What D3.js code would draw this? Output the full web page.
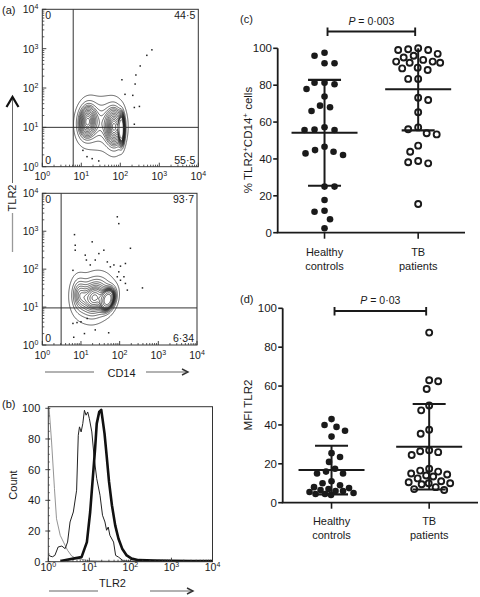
<!DOCTYPE html>
<html><head><meta charset="utf-8">
<script src="https://cdn.jsdelivr.net/npm/d3@7"></script>
<style>html,body{margin:0;padding:0;background:#fff}svg{display:block}</style>
</head><body>
<script>
// ---------------- DATA ----------------
// (a) flow cytometry: populations [log10 CD14, log10 TLR2, sdX, sdY, rho, weight]
const a1Pops = [
  [1.15, 1.15, 0.14, 0.26, 0.10, 0.28],
  [1.85, 1.00, 0.14, 0.30, 0.00, 0.35],
  [2.03, 0.95, 0.04, 0.20, 0.00, 0.15],
  [1.50, 1.10, 0.26, 0.36, 0.10, 0.22]
];
const a2Pops = [
  [1.35, 1.25, 0.24, 0.30, 0.15, 0.60],
  [1.70, 1.20, 0.10, 0.16, 0.30, 0.28],
  [0.95, 1.35, 0.12, 0.26, 0.00, 0.12]
];
// outlier events [CD14, TLR2]
const a1Events = [[646,933],[479,676],[324,363],[251,214],[110,162],[240,126],[132,69],[209,65],[229,32],[309,34],[229,12],[11,2.6],[14,1.8],[28,1.4],[19,1.6]];
const a2Events = [[87,2400],[95,1585],[6.8,813],[7.1,427],[7.1,316],[19.5,525],[39,316],[190,355],[12.9,234],[29,257],[13.8,174],[23.4,174],[6.2,93],[17.4,129],[48,155],[57.5,115],[71,129],[105,120],[141,141],[95,85],[129,63],[87,63],[141,42],[158,28],[389,32],[105,51],[6.2,3.7],[7.9,3.9],[10,4.1],[6.5,1.6],[12.3,2.0],[23.4,2.5],[52,2.1],[14.5,5.0]];
const a1Quad = {vx: 6.2, hy: 10};
const a2Quad = {vx: 3.07, hy: 9.5};
const a1Labels = ["0", "44·5", "0", "55·5"];
const a2Labels = ["0", "93·7", "0", "6·34"];
const logTicks = [1, 10, 100, 1000, 10000];
const logTickExp = ["0", "1", "2", "3", "4"];

// (b) histograms: [log10 TLR2, count]
const histIso = [[0,100],[0.02,100],[0.08,78],[0.15,47.6],[0.2,28],[0.29,17.2],[0.37,12.8],[0.47,7.4],[0.57,3.7],[0.69,2],[0.81,1.5],[0.95,0.8],[1.2,0.5],[1.6,0.3],[2,0.2],[4,0]];
const histThin = [[0,4.6],[0.04,3.7],[0.1,3.2],[0.16,4.1],[0.24,9.6],[0.33,10.2],[0.41,8.5],[0.47,12.8],[0.53,25.9],[0.61,32.4],[0.69,46.6],[0.73,82.4],[0.76,87.9],[0.8,84.6],[0.84,90],[0.88,98.7],[0.92,95.5],[0.96,97.6],[1.0,93.3],[1.06,84.6],[1.12,67.2],[1.18,54.1],[1.26,43.3],[1.32,30.3],[1.38,25.9],[1.42,20.5],[1.46,22.6],[1.5,17.2],[1.59,12.8],[1.64,4.1],[1.71,3],[1.83,0.5],[2,0.3],[4,0]];
const histThick = [[0.3,0.5],[0.61,2],[0.81,3],[0.94,12.8],[1.02,32.4],[1.07,49.8],[1.14,73.7],[1.18,90],[1.24,97.6],[1.29,99],[1.32,93.3],[1.37,83.5],[1.42,69.4],[1.48,52],[1.55,36.8],[1.63,23.7],[1.71,15],[1.8,8.5],[1.91,4.1],[2.03,2],[2.2,1],[2.6,0.8],[3,0.6],[3.5,0.5],[4,0.5]];
const countTicks = [0, 20, 40, 60, 80, 100];

// (c) % TLR2+CD14+ cells
const groups = ["Healthy controls", "TB patients"];
const groupLines = [["Healthy", "controls"], ["TB", "patients"]];
const cHealthy = [97.6,96.0,91.9,91.9,81.3,80.5,81.3,77.9,73.8,68.9,68.0,66.0,57.2,55.7,55.7,56.0,46.6,43.9,42.1,43.0,44.8,25.0,25.0,17.7,11.9,11.4,7.3,2.4];
const cTB = [99.1,99.5,100,99.1,97,96,95,92.2,92.8,93.7,92.8,92.2,88.2,89.5,89.1,83.4,83.4,73.2,72.0,65.3,57.1,53.9,53.3,56.1,47.2,43.9,38.2,37.6,38.9,15.6];
const cMean = [54.2, 77.8];
const cSD = [28.7, 22.3];
const cP = "0·003";
// (d) MFI TLR2
const dHealthy = [43,39,40,34,37,25.5,23.5,21,17.5,15,16,15,11,10,9,8,7.5,7,6.5,6,6,5.5,5,4.5,4.5,4];
const dTB = [87.5,63,62.5,58.5,50,47.5,37.5,35.5,27,26.5,26,24.5,17.5,16.5,16,15,14.5,14,13.5,12.5,11,10.5,10,10,9.5,8,7,6.5];
const dMean = [16.8, 28.8];
const dSD = [12.5, 22.0];
const dP = "0·03";
const pctTicks = [0, 20, 40, 60, 80, 100];

// ---------------- DRAW ----------------
const FONT = "'Liberation Sans', Arial, Helvetica, sans-serif";
const INK = "#1a1a1a";
const svg = d3.select("body").append("svg").attr("width", 480).attr("height", 597)
  .style("font-family", FONT);
svg.append("rect").attr("width", 480).attr("height", 597).attr("fill", "#fff");

function panelLabel(t, x, y) {
  svg.append("text").attr("x", x).attr("y", y).attr("font-size", 11).attr("fill", INK).text(t);
}
function powLabel(g, v, i, x, y, anchor) {
  const t = g.append("text").attr("x", x).attr("y", y).attr("text-anchor", anchor)
    .attr("font-size", 10.5).attr("fill", INK);
  t.append("tspan").text("10");
  t.append("tspan").attr("dy", -4).attr("font-size", 7).text(logTickExp[i]);
}
function minorLogVals() {
  const out = [];
  for (let d = 0; d < 4; d++) for (let k = 2; k <= 9; k++) out.push(k * Math.pow(10, d));
  return out;
}

function flowPlot(x0, x1, y0, y1, pops, events, quad, labels, clipId) {
  const x = d3.scaleLog().domain([1, 1e4]).range([x0, x1]);
  const y = d3.scaleLog().domain([1, 1e4]).range([y1, y0]);
  const g = svg.append("g");
  g.append("clipPath").attr("id", clipId).append("rect")
    .attr("x", x0).attr("y", y0).attr("width", x1 - x0).attr("height", y1 - y0);
  // density grid
  const step = 1;
  const nx = Math.ceil((x1 - x0) / step) + 1, ny = Math.ceil((y1 - y0) / step) + 1;
  const vals = new Float64Array(nx * ny);
  for (let j = 0; j < ny; j++) for (let i = 0; i < nx; i++) {
    const lx = Math.log10(x.invert(x0 + i * step));
    const ly = Math.log10(y.invert(y0 + j * step));
    let s = 0;
    for (const [cx, cy, sx, sy, r, w] of pops) {
      const zx = (lx - cx) / sx, zy = (ly - cy) / sy;
      s += w / (sx * sy * Math.sqrt(1 - r * r)) * Math.exp(-(zx * zx - 2 * r * zx * zy + zy * zy) / (2 * (1 - r * r)));
    }
    vals[j * nx + i] = s;
  }
  // probability contours (equal mass levels)
  const sorted = Array.from(vals).sort((a, b) => b - a);
  const total = d3.sum(sorted);
  const outside = d3.range(0.03, 0.96, 0.062);
  const thr = [];
  let cum = 0, k = 0;
  const targets = outside.map(q => (1 - q) * total).sort((a, b) => a - b);
  for (const v of sorted) {
    cum += v;
    while (k < targets.length && cum >= targets[k]) { thr.push(v); k++; }
    if (k >= targets.length) break;
  }
  const conts = d3.contours().size([nx, ny]).thresholds(thr.sort((a, b) => a - b))(Array.from(vals));
  const path = d3.geoPath(d3.geoTransform({point: function(px, py) {
    this.stream.point(x0 + (px - 0.5) * step, y0 + (py - 0.5) * step);
  }}));
  const cg = g.append("g").attr("clip-path", `url(#${clipId})`);
  cg.selectAll("path").data(conts).join("path").attr("d", path)
    .attr("fill", "none").attr("stroke", "#222").attr("stroke-width", 0.7);
  cg.selectAll("rect.ev").data(events).join("rect").attr("class", "ev")
    .attr("x", d => x(d[0]) - 0.75).attr("y", d => y(d[1]) - 0.75)
    .attr("width", 1.5).attr("height", 1.5).attr("fill", "#222");
  // quadrant lines
  g.append("line").attr("x1", x(quad.vx)).attr("x2", x(quad.vx)).attr("y1", y0).attr("y2", y1)
    .attr("stroke", "#333").attr("stroke-width", 1);
  g.append("line").attr("x1", x0).attr("x2", x1).attr("y1", y(quad.hy)).attr("y2", y(quad.hy))
    .attr("stroke", "#333").attr("stroke-width", 1);
  // frame
  g.append("rect").attr("x", x0).attr("y", y0).attr("width", x1 - x0).attr("height", y1 - y0)
    .attr("fill", "none").attr("stroke", "#333").attr("stroke-width", 1);
  // ticks
  const minors = minorLogVals();
  g.selectAll("line.mx").data(minors).join("line").attr("class", "mx")
    .attr("x1", d => x(d)).attr("x2", d => x(d)).attr("y1", y1).attr("y2", y1 - 2)
    .attr("stroke", "#333").attr("stroke-width", 0.8);
  g.selectAll("line.my").data(minors).join("line").attr("class", "my")
    .attr("y1", d => y(d)).attr("y2", d => y(d)).attr("x1", x0).attr("x2", x0 + 2)
    .attr("stroke", "#333").attr("stroke-width", 0.8);
  g.selectAll("line.Mx").data(logTicks).join("line").attr("class", "Mx")
    .attr("x1", d => x(d)).attr("x2", d => x(d)).attr("y1", y1).attr("y2", y1 - 4)
    .attr("stroke", "#333").attr("stroke-width", 0.9);
  g.selectAll("line.My").data(logTicks).join("line").attr("class", "My")
    .attr("y1", d => y(d)).attr("y2", d => y(d)).attr("x1", x0).attr("x2", x0 + 4)
    .attr("stroke", "#333").attr("stroke-width", 0.9);
  logTicks.forEach((v, i) => {
    powLabel(g, v, i, x(v), y1 + 13.5, "middle");
    powLabel(g, v, i, x0 - 4, y(v) + 4, "end");
  });
  // quadrant labels
  const qs = 10.5;
  g.append("text").attr("x", x0 + 3).attr("y", y0 + 10).attr("font-size", qs).attr("fill", INK).text(labels[0]);
  g.append("text").attr("x", x1 - 3).attr("y", y0 + 10).attr("text-anchor", "end").attr("font-size", qs).attr("fill", INK).text(labels[1]);
  g.append("text").attr("x", x0 + 3).attr("y", y1 - 3).attr("font-size", qs).attr("fill", INK).text(labels[2]);
  g.append("text").attr("x", x1 - 3).attr("y", y1 - 3).attr("text-anchor", "end").attr("font-size", qs).attr("fill", INK).text(labels[3]);
}

panelLabel("(a)", 2, 14);
flowPlot(42.3, 198.3, 9.3, 166.7, a1Pops, a1Events, a1Quad, a1Labels, "clipA1");
flowPlot(42.3, 197, 193.3, 345, a2Pops, a2Events, a2Quad, a2Labels, "clipA2");

// axis titles with arrows
function arrowHead(x, y) {
  svg.append("path").attr("d", `M${x - 6},${y - 3}L${x},${y}L${x - 6},${y + 3}`)
    .attr("fill", "none").attr("stroke", "#333").attr("stroke-width", 1.4);
}
function horizTitle(text, cx, by, lx0, lx1, rx0, rx1, ly) {
  svg.append("text").attr("x", cx).attr("y", by).attr("text-anchor", "middle")
    .attr("font-size", 11).attr("fill", INK).text(text);
  svg.append("line").attr("x1", lx0).attr("x2", lx1).attr("y1", ly).attr("y2", ly)
    .attr("stroke", "#999").attr("stroke-width", 1.3);
  svg.append("line").attr("x1", rx0).attr("x2", rx1).attr("y1", ly).attr("y2", ly)
    .attr("stroke", "#999").attr("stroke-width", 1.3);
  arrowHead(rx1, ly);
}
horizTitle("CD14", 121.5, 377, 45, 94, 146, 188, 372);
horizTitle("TLR2", 112.5, 587, 49, 98, 150, 193, 591);
// vertical TLR2 for (a)
svg.append("text").attr("transform", "translate(16,198) rotate(-90)").attr("text-anchor", "middle")
  .attr("font-size", 11).attr("fill", INK).text("TLR2");
svg.append("line").attr("x1", 12.5).attr("x2", 12.5).attr("y1", 99).attr("y2", 183)
  .attr("stroke", "#666").attr("stroke-width", 1);
svg.append("line").attr("x1", 12.5).attr("x2", 12.5).attr("y1", 213).attr("y2", 252)
  .attr("stroke", "#999").attr("stroke-width", 1.3);
svg.append("path").attr("d", "M6.5,107L12.5,97L18.5,107").attr("fill", "none")
  .attr("stroke", "#111").attr("stroke-width", 2.2);

// ---------------- (b) histogram ----------------
(function() {
  const x0 = 48.3, x1 = 212.5, y0 = 406.7, y1 = 561.7;
  const x = d3.scaleLog().domain([1, 1e4]).range([x0, x1]);
  const y = d3.scaleLinear().domain([0, 100]).range([y1, 408.3]);
  const g = svg.append("g");
  panelLabel("(b)", 2, 408);
  g.append("clipPath").attr("id", "clipB").append("rect")
    .attr("x", x0).attr("y", y0).attr("width", x1 - x0).attr("height", y1 - y0);
  const line = d3.line().x(d => x(Math.pow(10, d[0]))).y(d => y(d[1])).curve(d3.curveLinear);
  const cg = g.append("g").attr("clip-path", "url(#clipB)");
  cg.append("path").attr("d", line(histIso)).attr("fill", "none").attr("stroke", "#888").attr("stroke-width", 0.9);
  cg.append("path").attr("d", line(histThin)).attr("fill", "none").attr("stroke", "#222").attr("stroke-width", 1);
  cg.append("path").attr("d", line(histThick)).attr("fill", "none").attr("stroke", "#111").attr("stroke-width", 2.6)
    .attr("stroke-linejoin", "round");
  g.append("rect").attr("x", x0).attr("y", y0).attr("width", x1 - x0).attr("height", y1 - y0)
    .attr("fill", "none").attr("stroke", "#333").attr("stroke-width", 1);
  const minors = minorLogVals();
  g.selectAll("line.mx").data(minors).join("line")
    .attr("x1", d => x(d)).attr("x2", d => x(d)).attr("y1", y1).attr("y2", y1 - 2)
    .attr("stroke", "#333").attr("stroke-width", 0.8);
  g.selectAll("line.Mx").data(logTicks).join("line")
    .attr("x1", d => x(d)).attr("x2", d => x(d)).attr("y1", y1).attr("y2", y1 - 4)
    .attr("stroke", "#333").attr("stroke-width", 0.9);
  g.selectAll("line.My").data(countTicks).join("line")
    .attr("y1", d => y(d)).attr("y2", d => y(d)).attr("x1", x0 - 3).attr("x2", x0 + 2)
    .attr("stroke", "#333").attr("stroke-width", 0.9);
  g.selectAll("line.my").data(d3.range(5, 100, 5)).join("line")
    .attr("y1", d => y(d)).attr("y2", d => y(d)).attr("x1", x0).attr("x2", x0 + 1.5)
    .attr("stroke", "#333").attr("stroke-width", 0.7);
  g.selectAll("text.yl").data(countTicks).join("text")
    .attr("x", x0 - 8).attr("y", d => y(d) + 4).attr("text-anchor", "end")
    .attr("font-size", 11).attr("fill", INK).text(d => d);
  logTicks.forEach((v, i) => powLabel(g, v, i, x(v), 571, "middle"));
  svg.append("text").attr("transform", "translate(17,485) rotate(-90)").attr("text-anchor", "middle")
    .attr("font-size", 11).attr("fill", INK).text("Count");
})();

// ---------------- (c),(d) dot plots ----------------
function swarm(values, yS, D, maxHalf) {
  const order = values.map((v, i) => i).sort((a, b) => values[b] - values[a]);
  const placed = [], offs = new Array(values.length);
  order.forEach((idx, k) => {
    const yy = yS(values[idx]);
    const sgn = k % 2 === 0 ? 1 : -1;
    const cands = [0];
    for (let m = 1; m * 0.5 <= maxHalf; m++) { cands.push(sgn * m * 0.5, -sgn * m * 0.5); }
    let best = 0, bestScore = -1, chosen = null;
    for (const c of cands) {
      let md = Infinity;
      for (const p of placed) { const d = Math.hypot(p[0] - c, p[1] - yy); if (d < md) md = d; }
      if (md >= D) { chosen = c; break; }
      if (md > bestScore) { bestScore = md; best = c; }
    }
    if (chosen === null) chosen = best;
    placed.push([chosen, yy]);
    offs[idx] = chosen;
  });
  return offs;
}

function dotPlot(opt) {
  const {ax0, ax1, yb, yt, label, labelCenter, data, mean, sd, pText, pY, tickLabelX, catY, panel, panelY, D, maxHalf} = opt;
  const g = svg.append("g");
  panelLabel(panel, 240, panelY);
  const x = d3.scalePoint().domain(groups).range([ax0, ax1]).padding(0.5);
  const y = d3.scaleLinear().domain([0, 100]).range([yb, yt]);
  g.append("line").attr("x1", ax0).attr("x2", ax0).attr("y1", yb).attr("y2", yt)
    .attr("stroke", INK).attr("stroke-width", 1.8);
  g.append("line").attr("x1", ax0 - 1).attr("x2", ax1).attr("y1", yb).attr("y2", yb)
    .attr("stroke", INK).attr("stroke-width", 1.8);
  g.selectAll("line.yt").data(pctTicks).join("line")
    .attr("x1", ax0 - 4.5).attr("x2", ax0).attr("y1", d => y(d)).attr("y2", d => y(d))
    .attr("stroke", INK).attr("stroke-width", 1.6);
  g.selectAll("text.yl").data(pctTicks).join("text")
    .attr("x", tickLabelX).attr("y", d => y(d) + 4).attr("text-anchor", "end")
    .attr("font-size", 11.5).attr("fill", INK).text(d => d);
  g.selectAll("line.xt").data(groups).join("line")
    .attr("x1", d => x(d)).attr("x2", d => x(d)).attr("y1", yb).attr("y2", yb + 6)
    .attr("stroke", INK).attr("stroke-width", 1.6);
  groups.forEach((gName, i) => {
    groupLines[i].forEach((ln, k) => {
      g.append("text").attr("x", x(gName)).attr("y", catY + k * 13.5).attr("text-anchor", "middle")
        .attr("font-size", 11).attr("fill", INK).text(ln);
    });
  });
  label(g, labelCenter);
  data.forEach((vals, i) => {
    const offs = swarm(vals, y, D, maxHalf);
    const cx = x(groups[i]);
    const sel = g.append("g").selectAll("circle").data(vals).join("circle")
      .attr("cx", (d, j) => cx + offs[j]).attr("cy", d => y(d));
    if (i === 0) sel.attr("r", 3.3).attr("fill", INK);
    else sel.attr("r", 3.0).attr("fill", "none").attr("stroke", INK).attr("stroke-width", 1.9);
  });
  groups.forEach((gName, i) => {
    const cx = x(gName);
    const hi = mean[i] + sd[i], lo = mean[i] - sd[i];
    g.append("line").attr("x1", cx).attr("x2", cx).attr("y1", y(Math.min(100, hi))).attr("y2", y(lo))
      .attr("stroke", INK).attr("stroke-width", 2);
    [hi, lo].filter(v => v <= 100 && v >= 0).forEach(v => {
      g.append("line").attr("x1", cx - 16.5).attr("x2", cx + 16.5).attr("y1", y(v)).attr("y2", y(v))
        .attr("stroke", INK).attr("stroke-width", 2.1);
    });
    g.append("line").attr("x1", cx - 33).attr("x2", cx + 33).attr("y1", y(mean[i])).attr("y2", y(mean[i]))
      .attr("stroke", INK).attr("stroke-width", 2.1);
  });
  const bx0 = x(groups[0]) + 3, bx1 = x(groups[1]) - 3;
  g.append("path").attr("d", `M${bx0},${pY - 4}V${pY + 4.5}M${bx0},${pY}H${bx1}M${bx1},${pY - 4}V${pY + 4.5}`)
    .attr("fill", "none").attr("stroke", INK).attr("stroke-width", 1.9);
  const t = g.append("text").attr("x", (bx0 + bx1) / 2).attr("y", pY - 7).attr("text-anchor", "middle")
    .attr("font-size", 10.5).attr("fill", INK);
  t.append("tspan").attr("font-style", "italic").text("P");
  t.append("tspan").text(" = " + pText);
}

dotPlot({
  ax0: 277.7, ax1: 465, yb: 232.7, yt: 48.3, panel: "(c)", panelY: 23,
  data: [cHealthy, cTB], mean: cMean, sd: cSD, pText: cP, pY: 31.5,
  tickLabelX: 272, catY: 256, D: 10, maxHalf: 22, labelCenter: 140,
  label: (g, c) => {
    const t = g.append("text").attr("transform", `translate(252,${c}) rotate(-90)`).attr("text-anchor", "middle")
      .attr("font-size", 11.5).attr("fill", INK);
    t.append("tspan").text("% TLR2");
    t.append("tspan").attr("dy", -4).attr("font-size", 8).text("+");
    t.append("tspan").attr("dy", 4).text("CD14");
    t.append("tspan").attr("dy", -4).attr("font-size", 8).text("+");
    t.append("tspan").attr("dy", 4).text(" cells");
  }
});
dotPlot({
  ax0: 282.7, ax1: 478, yb: 502.7, yt: 308.3, panel: "(d)", panelY: 303,
  data: [dHealthy, dTB], mean: dMean, sd: dSD, pText: dP, pY: 311,
  tickLabelX: 277, catY: 525, D: 9, maxHalf: 22, labelCenter: 405,
  label: (g, c) => {
    g.append("text").attr("transform", `translate(252,${c}) rotate(-90)`).attr("text-anchor", "middle")
      .attr("font-size", 11.5).attr("fill", INK).text("MFI TLR2");
  }
});
</script>
</body></html>
